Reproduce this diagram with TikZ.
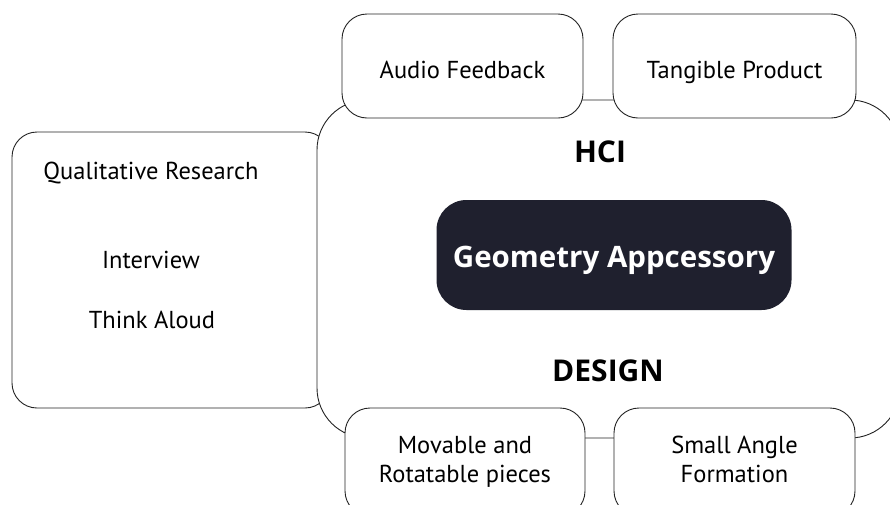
\documentclass[tikz,border=0pt]{standalone}
\usepackage{fontspec}
\setmainfont{PT Sans}
\newfontfamily\headfont{Open Sans}
\usetikzlibrary{positioning}
\definecolor{appnavy}{RGB}{31,32,46}
\definecolor{edgegray}{RGB}{35,35,35}

\begin{document}
\begin{tikzpicture}[x=1pt,y=-1pt,
    every node/.style={font=\fontsize{24.5}{29}\selectfont},
    box/.style={draw=edgegray,line width=0.9pt,fill=white,rounded corners=25pt,align=center,inner sep=0pt},
    topbox/.style={box,minimum height=104pt,text height=24pt,text depth=0pt},
    title/.style={font=\headfont\fontsize{30}{32}\selectfont\bfseries}]
  \useasboundingbox (0,0) rectangle (890,504);
  \clip (0,0) rectangle (890,504);
  % outer frames
  \node[box,minimum width=318pt,minimum height=276pt] (research) at (171,270) {};
  \node[box,rounded corners=50pt,minimum width=583pt,minimum height=338pt] (core) at (608.5,269) {};
  \node[topbox,minimum width=241pt] (audio) at (462.5,66) {Audio Feedback};
  \node[topbox,minimum width=243pt] (tangible) at (734.5,66) {Tangible Product};
  \node[box,minimum width=240pt,minimum height=108pt] (movable) at (465,462) {\strut Movable and\\Rotatable pieces\strut};
  \node[box,minimum width=241pt,minimum height=108pt] (angle) at (734.5,462) {\strut Small Angle\\Formation\strut};
  % centre
  \node[fill=appnavy,rounded corners=30pt,minimum width=355pt,minimum height=110pt,text height=25pt,text depth=0pt,text=white,font=\headfont\fontsize{29.5}{31}\selectfont\bfseries] (app) at (614,255) {Geometry Appcessory};
  \node[title,anchor=base] (hci) at (600,162) {HCI};
  \node[title,anchor=base] (design) at (608,381) {DESIGN};
  % research methods
  \node[anchor=base] (qual) at (151,179) {Qualitative Research};
  \node[anchor=base] (interview) at (151,268) {Interview};
  \node[anchor=base] (think) at (152,328) {Think Aloud};
\end{tikzpicture}
\end{document}
